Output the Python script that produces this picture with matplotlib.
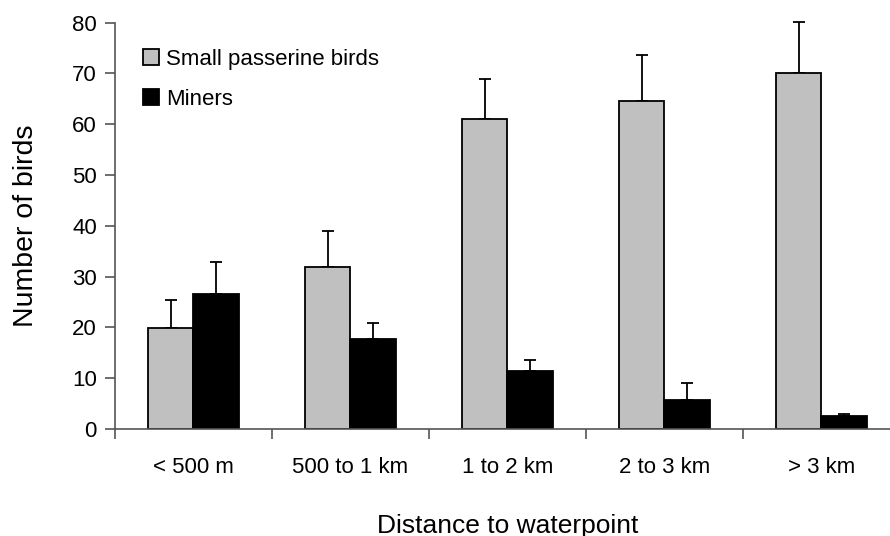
import matplotlib
matplotlib.use("Agg")
import matplotlib.pyplot as plt
import numpy as np

plt.rcParams['font.family'] = ['Liberation Sans', 'DejaVu Sans']

categories = ["< 500 m", "500 to 1 km", "1 to 2 km", "2 to 3 km", "> 3 km"]
passerines = [19.8, 31.8, 61.0, 64.5, 70.1]
passerines_err = [5.5, 7.1, 7.9, 9.2, 10.0]
miners = [26.6, 17.7, 11.3, 5.7, 2.5]
miners_err = [6.3, 3.2, 2.3, 3.4, 0.5]

fig = plt.figure(figsize=(8.9, 5.36), dpi=100)
ax = fig.add_axes([0.129, 0.2, 0.882, 0.7576])

x = np.arange(len(categories))
w = 0.29
ax.bar(x - w / 2, passerines, w, color='#c0c0c0', edgecolor='black', linewidth=1.3,
       label='Small passerine birds', zorder=2)
ax.bar(x + w / 2, miners, w, color='black', edgecolor='black', linewidth=1.3,
       label='Miners', zorder=2)
for xs, vals, errs in [(x - w / 2, passerines, passerines_err), (x + w / 2, miners, miners_err)]:
    eb = ax.errorbar(xs, vals, yerr=[np.zeros(5), errs], fmt='none',
                     ecolor='black', elinewidth=1.3, capsize=4.5, capthick=1.3, zorder=1)
    for art in eb.lines[1] + eb.lines[2]:
        art.set_clip_on(False)

ax.set_xlim(-0.5, 4.5)
ax.set_ylim(0, 80)
ax.set_yticks(range(0, 81, 10))
ax.set_xticks(x)
ax.set_xticklabels(categories)
ax.set_xticks(np.arange(-0.5, 4.6, 1), minor=True)
ax.tick_params(axis='x', which='major', length=0, pad=20, labelsize=16)
ax.tick_params(axis='x', which='minor', length=7, color='#555555', width=1.2)
ax.tick_params(axis='y', length=7, color='#555555', width=1.2, labelsize=16, pad=6)

for s in ['top', 'right']:
    ax.spines[s].set_visible(False)
for s in ['left', 'bottom']:
    ax.spines[s].set_color('#555555')
    ax.spines[s].set_linewidth(1.2)

ax.set_ylabel("Number of birds", fontsize=20.5, labelpad=24)
ax.set_xlabel("Distance to waterpoint", fontsize=19, labelpad=26)

ax.legend(loc='upper left', bbox_to_anchor=(0.01, 0.985), frameon=False, fontsize=16,
          handlelength=0.75, handleheight=0.75, handletextpad=0.3, labelspacing=0.85)

fig.savefig("out.png", dpi=100)
